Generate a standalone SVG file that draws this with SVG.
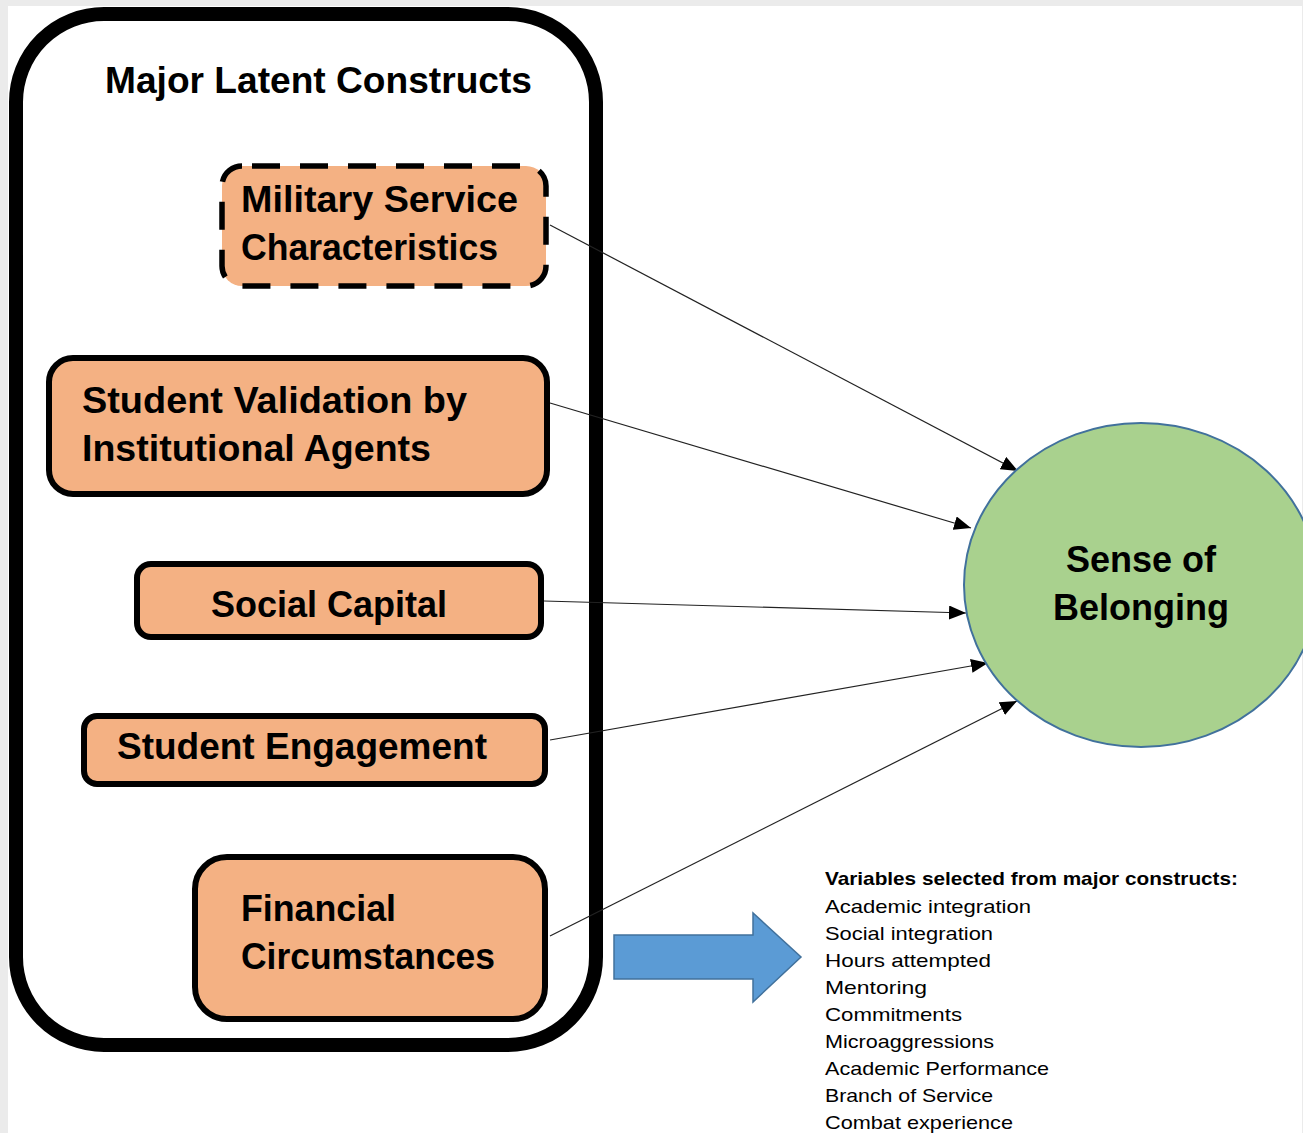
<svg xmlns="http://www.w3.org/2000/svg" width="1303" height="1133" viewBox="0 0 1303 1133">
<style>
.box{fill:#f4b183;stroke:#000;stroke-width:6}
.bt{font-family:"Liberation Sans",Arial,sans-serif;font-weight:bold;font-size:36px;fill:#000}
.lt{font-family:"Liberation Sans",Arial,sans-serif;font-size:19px;fill:#000}
.conn line{stroke:#222;stroke-width:1.2;marker-end:url(#ah)}
</style>
<defs>
<marker id="ah" markerUnits="userSpaceOnUse" markerWidth="18" markerHeight="14" refX="17" refY="7" orient="auto">
<path d="M0,0 L17,7 L0,14 Z" fill="#000"/>
</marker>
</defs>
<rect x="0" y="0" width="1303" height="1133" fill="#ebebeb"/>
<rect x="8" y="6" width="1294" height="1127" fill="#fff"/>

<g id="container">
<rect x="16" y="14" width="580" height="1031" rx="88" ry="88" fill="none" stroke="#000" stroke-width="14"/>
<text class="bt" x="105" y="93" font-size="31" textLength="427" lengthAdjust="spacingAndGlyphs">Major Latent Constructs</text>
</g>

<g class="conn" id="connectors">
<line x1="550" y1="225" x2="1018" y2="471"/>
<line x1="550" y1="403" x2="971" y2="528"/>
<line x1="544" y1="601" x2="966" y2="613"/>
<line x1="550" y1="740" x2="988" y2="663"/>
<line x1="550" y1="936" x2="1017" y2="701"/>
</g>

<g id="military">
<rect x="222" y="166" width="324" height="120" rx="20" ry="20" fill="#f4b183" stroke="#000" stroke-width="5.5" stroke-dasharray="28 20" stroke-dashoffset="-10"/>
<text class="bt" x="241" y="212" textLength="277" lengthAdjust="spacingAndGlyphs">Military Service</text>
<text class="bt" x="241" y="260" textLength="257" lengthAdjust="spacingAndGlyphs">Characteristics</text>
</g>

<g id="validation">
<rect class="box" x="49" y="358" width="498" height="136" rx="24" ry="24"/>
<text class="bt" x="82" y="413" textLength="385" lengthAdjust="spacingAndGlyphs">Student Validation by</text>
<text class="bt" x="82" y="461" textLength="349" lengthAdjust="spacingAndGlyphs">Institutional Agents</text>
</g>

<g id="social">
<rect class="box" x="137" y="564" width="404" height="73" rx="14" ry="14"/>
<text class="bt" x="211" y="617" textLength="236" lengthAdjust="spacingAndGlyphs">Social Capital</text>
</g>

<g id="engagement">
<rect class="box" x="84" y="716" width="461" height="68" rx="13" ry="13"/>
<text class="bt" x="117" y="759" textLength="370" lengthAdjust="spacingAndGlyphs">Student Engagement</text>
</g>

<g id="financial">
<rect class="box" x="195" y="857" width="350" height="162" rx="32" ry="32"/>
<text class="bt" x="241" y="921" textLength="155" lengthAdjust="spacingAndGlyphs">Financial</text>
<text class="bt" x="241" y="969" textLength="254" lengthAdjust="spacingAndGlyphs">Circumstances</text>
</g>

<g id="belonging">
<ellipse cx="1141" cy="585" rx="177" ry="162" fill="#a9d18e" stroke="#41719c" stroke-width="2"/>
<text class="bt" x="1141" y="572" text-anchor="middle" textLength="150" lengthAdjust="spacingAndGlyphs">Sense of</text>
<text class="bt" x="1141" y="620" text-anchor="middle" textLength="176" lengthAdjust="spacingAndGlyphs">Belonging</text>
</g>

<g id="blockarrow">
<path d="M614,935 L753,935 L753,913 L801,957 L753,1002 L753,979 L614,979 Z" fill="#5b9bd5" stroke="#41719c" stroke-width="1.5"/>
</g>

<g id="variables">
<text class="lt" x="825" y="885" font-weight="bold" textLength="413" lengthAdjust="spacingAndGlyphs">Variables selected from major constructs:</text>
<text class="lt" x="825" y="913" textLength="206" lengthAdjust="spacingAndGlyphs">Academic integration</text>
<text class="lt" x="825" y="940" textLength="168" lengthAdjust="spacingAndGlyphs">Social integration</text>
<text class="lt" x="825" y="967" textLength="166" lengthAdjust="spacingAndGlyphs">Hours attempted</text>
<text class="lt" x="825" y="994" textLength="102" lengthAdjust="spacingAndGlyphs">Mentoring</text>
<text class="lt" x="825" y="1021" textLength="137" lengthAdjust="spacingAndGlyphs">Commitments</text>
<text class="lt" x="825" y="1048" textLength="169" lengthAdjust="spacingAndGlyphs">Microaggressions</text>
<text class="lt" x="825" y="1075" textLength="224" lengthAdjust="spacingAndGlyphs">Academic Performance</text>
<text class="lt" x="825" y="1102" textLength="168" lengthAdjust="spacingAndGlyphs">Branch of Service</text>
<text class="lt" x="825" y="1129" textLength="188" lengthAdjust="spacingAndGlyphs">Combat experience</text>
</g>
</svg>
